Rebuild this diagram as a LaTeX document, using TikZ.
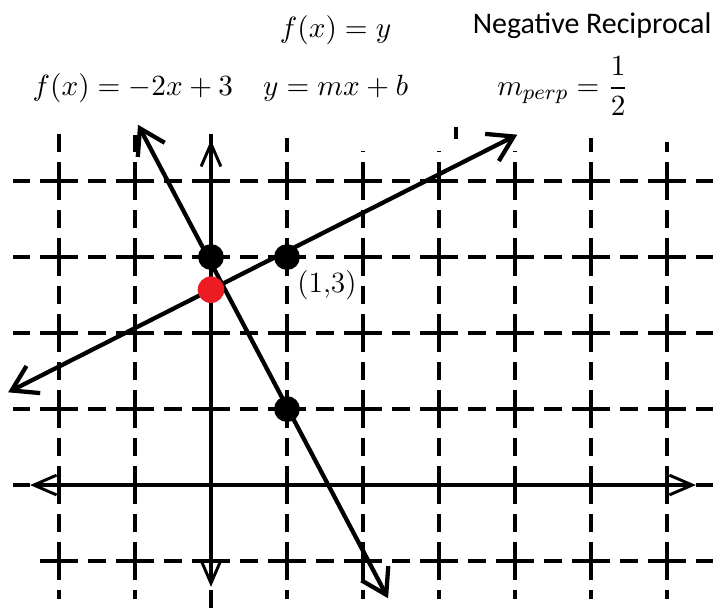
\documentclass[tikz,border=0pt]{standalone}
\usepackage{amsmath}
\usepackage{fontspec}
\newfontfamily\calibri{Carlito}
\usetikzlibrary{arrows.meta, positioning}
\definecolor{ptred}{HTML}{ED1C24}

\begin{document}
\begin{tikzpicture}[
    x=1cm, y=1cm,
    every node/.style={font=\fontsize{11}{13}\selectfont},
    eq/.style={inner sep=0pt},
    gridline/.style={line width=1.5pt, dash pattern=on 5mm off 1.3mm on 2.4mm off 1.3mm, dash phase=#1},
    axis/.style={line width=1.8pt, >={Straight Barb[length=3mm, width=2.6mm, line width=1.1pt]}, <->},
    graph/.style={line width=1.6pt, >={Straight Barb[length=3.2mm, width=4mm]}, <->},
    dot/.style={circle, fill=black, inner sep=0pt, minimum size=3.4mm},
    reddot/.style={dot, fill=ptred, minimum size=3.5mm},
]
    \useasboundingbox (-2.776,-1.605) rectangle (6.605,6.382);

    % Grid
    \foreach \y/\s in {4/-2.6, 3/-2.6, 2/-2.6, 1/-2.6, 0/-2.6, -1/-2.25} {
        \pgfmathsetmacro{\ph}{mod(\s+10.25,1)}
        \draw[gridline=\ph cm] (\s,\y) -- (6.7,\y);
    }
    \foreach \x/\b/\t in {-2/-1.5/4.63, -1/-1.5/4.6, 0/-1.75/4.74, 1/-1.5/4.57,
                          2/-1.5/4.4, 3/-1.5/4.4, 4/-1.5/4.4, 5/-1.5/4.57, 6/-1.5/4.51} {
        \pgfmathsetmacro{\ph}{mod(\b+10.25,1)}
        \draw[gridline=\ph cm] (\x,\b) -- (\x,\t);
    }

    % Axes
    \coordinate (xl) at (-2.38,0);
    \coordinate (xr) at (6.38,0);
    \coordinate (yb) at (0,-1.34);
    \coordinate (yt) at (0,4.54);
    \draw[axis] (xl) -- (xr);
    \draw[axis] (yb) -- (yt);

    % Lines
    \coordinate (steeptop) at (-0.96,4.74);
    \coordinate (steepbot) at (2.33,-1.49);
    \coordinate (perpleft) at (-2.67,1.22);
    \coordinate (perpright) at (4.03,4.61);
    \draw[graph] (steeptop) -- (steepbot);
    \draw[graph] (perpleft) -- (perpright);

    % stray mark
    \coordinate (marktop) at (3.22,4.71);
    \coordinate (markbot) at (3.22,4.55);
    \draw[line width=1.5pt] (marktop) -- (markbot);

    % Points
    \node[dot] (yint) at (0,3) {};
    \node[dot] (pt) at (1,3) {};
    \node[dot] (pt2) at (1,1) {};
    \node[reddot] (newint) at (0,2.57) {};
    \node[eq, anchor=west] (ptlabel) at (1.13,2.63) {(1,3)};

    % Equations
    \node[eq] (slopeform) at (1.64,5.22) {$y = mx + b$};
    \node[eq, above=0.39cm of slopeform] (fxy) {$f(x) = y$};
    \node[eq, left=0.38cm of slopeform] (lineeq) {$f(x) = -2x + 3$};
    \node[eq, anchor=west] (mperp) at (3.76,5.25) {$m_{perp} = \dfrac{1}{2}$};
    \node[eq, anchor=east, font=\calibri\fontsize{11.2}{13}\selectfont] (negrecip) at (6.59,6.05) {Negative Reciprocal};
\end{tikzpicture}
\end{document}
